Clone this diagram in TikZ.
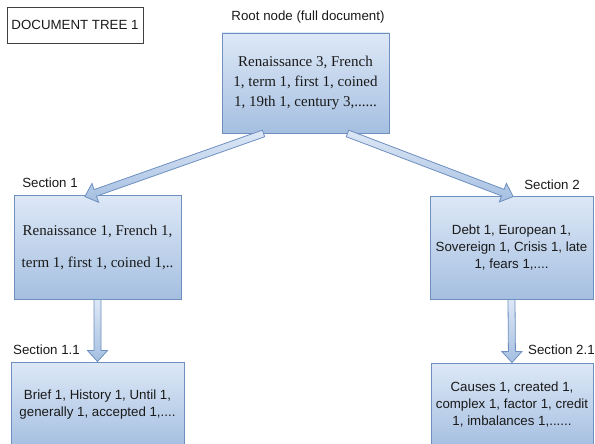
\documentclass[tikz,border=0pt]{standalone}
\usepackage{fontspec}
\setmainfont{Liberation Serif}
\setsansfont{Liberation Sans}
\usetikzlibrary{calc}

\definecolor{boxtop}{HTML}{DDE8F6}
\definecolor{boxbot}{HTML}{A5BFE1}
\definecolor{boxline}{HTML}{6E8FC0}
\definecolor{inktext}{HTML}{1A1A1A}

\tikzset{
  termbox/.style={draw=boxline, line width=0.9pt, top color=boxtop,
    bottom color=boxbot, inner sep=0pt, align=center, text=inktext},
  serifterms/.style={font=\fontsize{15}{20}\selectfont},
  sansterms/.style={font=\sffamily\fontsize{13.3}{17}\selectfont},
  seclabel/.style={font=\sffamily\fontsize{13.3}{16}\selectfont,
    inner sep=0pt, text=inktext},
  blockarr/.style={draw=boxline, line width=0.8pt, top color=boxtop,
    bottom color=boxbot, line join=miter},
}

% hollow block arrow from #1 to #2 (shaft 7pt, head 20pt wide, 11pt long)
\newcommand\drawblockarrow[2]{%
  \coordinate (ba-h) at ($(#2)!11pt!(#1)$);
  \path[blockarr] ($(#1)!3.5pt!90:(#2)$) -- ($(ba-h)!3.5pt!90:(#2)$)
    -- ($(ba-h)!10pt!90:(#2)$) -- (#2) -- ($(ba-h)!10pt!-90:(#2)$)
    -- ($(ba-h)!3.5pt!-90:(#2)$) -- ($(#1)!3.5pt!-90:(#2)$) -- cycle;
}

\begin{document}
\begin{tikzpicture}[x=1pt, y=-1pt]
\useasboundingbox (0,0) rectangle (595,444);
\fill[white] (0,0) rectangle (595,444);

% title
\node[draw=black!75, line width=0.8pt, minimum width=136pt, minimum height=36pt,
  font=\sffamily\fontsize{13.3}{16}\selectfont, text=inktext] (title) at (75,25)
  {DOCUMENT TREE 1};

% term boxes
\node[termbox, serifterms, minimum width=167pt, minimum height=100pt] (root)
  at (305.5,83) {Renaissance 3, French\\1, term 1, first 1, coined\\1, 19th 1, century 3,......};
\node[termbox, font=\fontsize{15}{32}\selectfont, minimum width=167pt, minimum height=104pt] (s1)
  at (97.5,247) {Renaissance 1, French 1,\\term 1, first 1, coined 1,..};
\node[termbox, sansterms, minimum width=163pt, minimum height=103pt] (s2)
  at (511.5,247.5) {Debt 1, European 1,\\Sovereign 1, Crisis 1, late\\1, fears 1,....};
\node[termbox, sansterms, minimum width=173pt, minimum height=85pt] (s11)
  at (97.5,404.5) {Brief 1, History 1, Until 1,\\generally 1, accepted 1,....};
\node[termbox, sansterms, minimum width=162pt, minimum height=84pt] (s21)
  at (512,405) {Causes 1, created 1,\\complex 1, factor 1, credit\\1, imbalances 1,......};

% labels
\node[seclabel] (lroot) at (308,17.5) {Root node (full document)};
\node[seclabel] (ls1) at (50,183) {Section 1};
\node[seclabel] (ls2) at (552,184.5) {Section 2};
\node[seclabel] (ls11) at (46.5,350) {Section 1.1};
\node[seclabel, anchor=west] (ls21) at (528,350) {Section 2.1};

% connectors
\coordinate (root-l) at ($(root.south west)!0.25!(root.south east)$);
\coordinate (root-r) at ($(root.south west)!0.75!(root.south east)$);
\coordinate (s1-in) at ($(s1.north west)!0.425!(s1.north east)+(0,2)$);
\coordinate (s2-in) at ($(s2.north west)!0.51!(s2.north east)+(0,1)$);
\drawblockarrow{root-l}{s1-in}
\drawblockarrow{root-r}{s2-in}
\drawblockarrow{s1.south}{s11.north}
\drawblockarrow{s2.south}{s21.north}
\end{tikzpicture}
\end{document}
